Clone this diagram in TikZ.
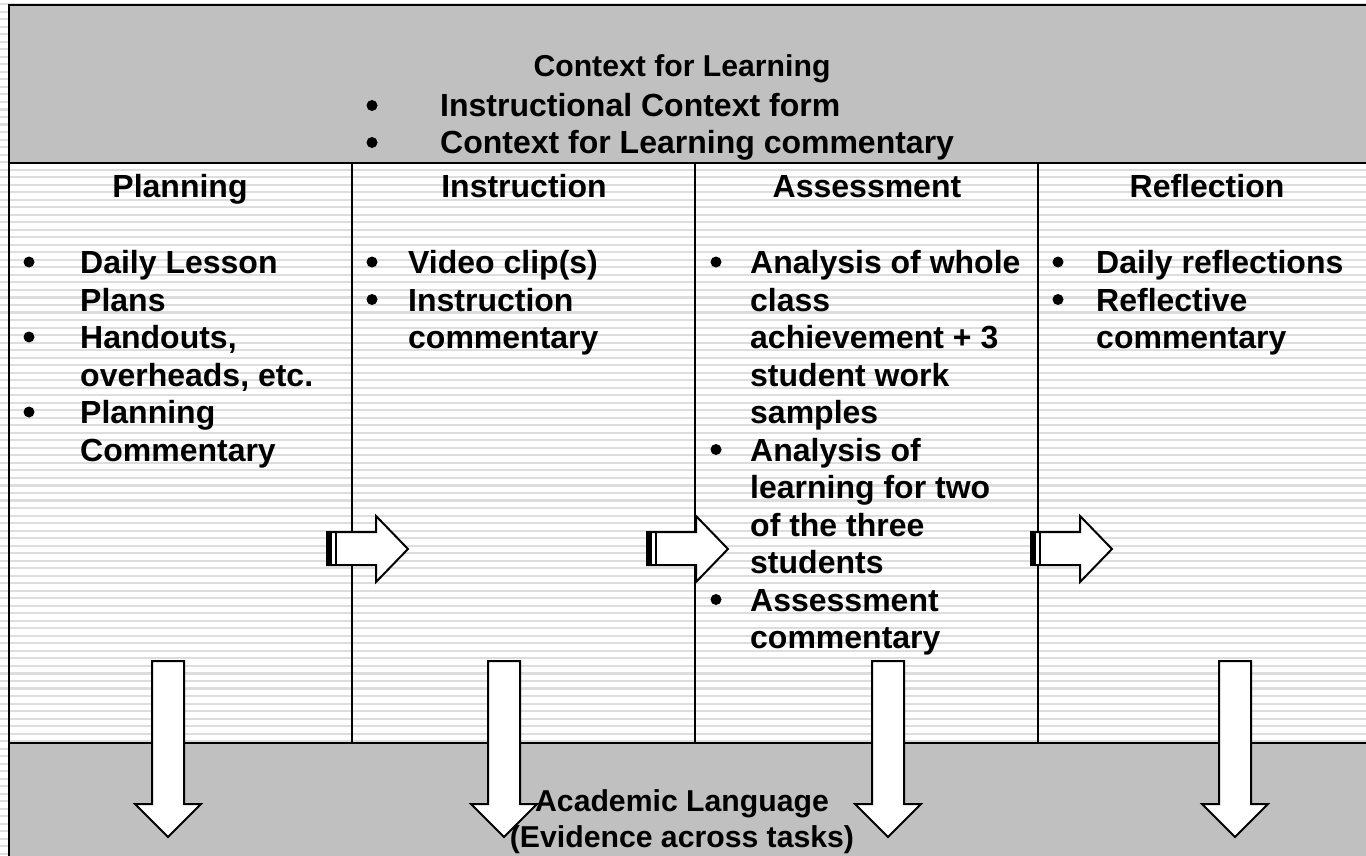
\documentclass[tikz,border=0pt]{standalone}
\usepackage{fontspec}
\setmainfont{Liberation Sans}
\definecolor{bandgray}{RGB}{192,192,192}
\definecolor{patgray}{RGB}{221,221,221}
\tikzset{
  patline/.style={draw=patgray, line width=2.1pt},
  frameline/.style={draw=black, line width=2.6pt},
  divline/.style={draw=black, line width=1.9pt},
  arrowshape/.style={draw=black, fill=white, line width=2pt, line join=miter},
  txt/.style={font=\bfseries\fontsize{32}{37.5}\selectfont, inner sep=0pt, anchor=base west},
  ctxt/.style={font=\bfseries\fontsize{32}{37.5}\selectfont, inner sep=0pt, anchor=base},
  smtxt/.style={font=\bfseries\fontsize{30.2}{35}\selectfont, inner sep=0pt, anchor=base},
  bul/.style={fill=black, circle, inner sep=0pt, minimum size=11pt},
}
\newcommand{\myhdarrow}[2]{% start x, name
  \draw[arrowshape] (#1,532) -- ({#1+49},532) -- ({#1+49},516) -- ({#1+81},549)
     -- ({#1+49},582) -- ({#1+49},565) -- (#1,565) -- cycle;
  \fill[black] (#1,531) rectangle ({#1+5},566);
  \draw[black, line width=2pt] ({#1+8.5},532) -- ({#1+8.5},565);
  \coordinate (#2) at ({#1+81},549);
}
\newcommand{\myvdarrow}[2]{% centre x, name
  \draw[arrowshape] ({#1-16},661) -- ({#1+16},661) -- ({#1+16},804) -- ({#1+33},804)
     -- (#1,837) -- ({#1-33},804) -- ({#1-16},804) -- cycle;
  \coordinate (#2) at (#1,837);
}
\begin{document}
\begin{tikzpicture}[x=1pt,y=-1pt]
\useasboundingbox (0,0) rectangle (1366,856);
% background lined pattern
\foreach \i in {0,...,113} {
  \draw[patline] (0,{4.2+7.52*\i}) -- (1366,{4.2+7.52*\i});
}
% grey bands
\fill[bandgray] (9,5) rectangle (1366,163);
\fill[bandgray] (9,743) rectangle (1366,856);
% frame and grid lines
\draw[frameline] (9,856) -- (9,5) -- (1366,5);
\draw[divline] (9,163) -- (1366,163);
\draw[divline] (9,743) -- (1366,743);
\draw[divline] (352,163) -- (352,743);
\draw[divline] (695,163) -- (695,743);
\draw[divline] (1038,163) -- (1038,743);
% horizontal arrows
\myhdarrow{327}{ha1}
\myhdarrow{647}{ha2}
\myhdarrow{1031}{ha3}
% down arrows
\myvdarrow{168}{va1}
\myvdarrow{504}{va2}
\myvdarrow{888}{va3}
\myvdarrow{1235}{va4}
% top band
\node[smtxt] (ctxtitle) at (682,77) {Context for Learning};
\node[bul] (cb1) at (372,105.5) {};
\node[txt] (ct1) at (440,117) {Instructional Context form};
\node[bul] (cb2) at (372,142.5) {};
\node[txt] (ct2) at (440,154) {Context for Learning commentary};
% headers
\node[ctxt] (hplan) at (180,197.5) {Planning};
\node[ctxt] (hinst) at (524,197.5) {Instruction};
\node[ctxt] (hasse) at (867,197.5) {Assessment};
\node[ctxt] (hrefl) at (1207,197.5) {Reflection};
% planning
\node[bul] (pb1) at (29,262) {};
\node[txt] (p1) at (80,273.5) {Daily Lesson};
\node[txt] (p2) at (80,311) {Plans};
\node[bul] (pb2) at (29,337) {};
\node[txt] (p3) at (80,348.5) {Handouts,};
\node[txt] (p4) at (80,386) {overheads, etc.};
\node[bul] (pb3) at (29,412) {};
\node[txt] (p5) at (80,423.5) {Planning};
\node[txt] (p6) at (80,461) {Commentary};
% instruction
\node[bul] (ib1) at (372,262) {};
\node[txt] (i1) at (408,273.5) {Video clip(s)};
\node[bul] (ib2) at (372,299.5) {};
\node[txt] (i2) at (408,311) {Instruction};
\node[txt] (i3) at (408,348.5) {commentary};
% assessment
\node[bul] (ab1) at (716,262) {};
\node[txt] (a1) at (750,273.5) {Analysis of whole};
\node[txt] (a2) at (750,311) {class};
\node[txt] (a3) at (750,348.5) {achievement + 3};
\node[txt] (a4) at (750,386) {student work};
\node[txt] (a5) at (750,423.5) {samples};
\node[bul] (ab2) at (716,449.5) {};
\node[txt] (a6) at (750,461) {Analysis of};
\node[txt] (a7) at (750,498.5) {learning for two};
\node[txt] (a8) at (750,536) {of the three};
\node[txt] (a9) at (750,573.5) {students};
\node[bul] (ab3) at (716,599.5) {};
\node[txt] (a10) at (750,611) {Assessment};
\node[txt] (a11) at (750,648.5) {commentary};
% reflection
\node[bul] (rb1) at (1058,262) {};
\node[txt] (r1) at (1096,273.5) {Daily reflections};
\node[bul] (rb2) at (1058,299.5) {};
\node[txt] (r2) at (1096,311) {Reflective};
\node[txt] (r3) at (1096,348.5) {commentary};
% bottom band
\node[smtxt] (acad1) at (682,811) {Academic Language};
\node[smtxt] (acad2) at (682,847) {(Evidence across tasks)};
\end{tikzpicture}
\end{document}
